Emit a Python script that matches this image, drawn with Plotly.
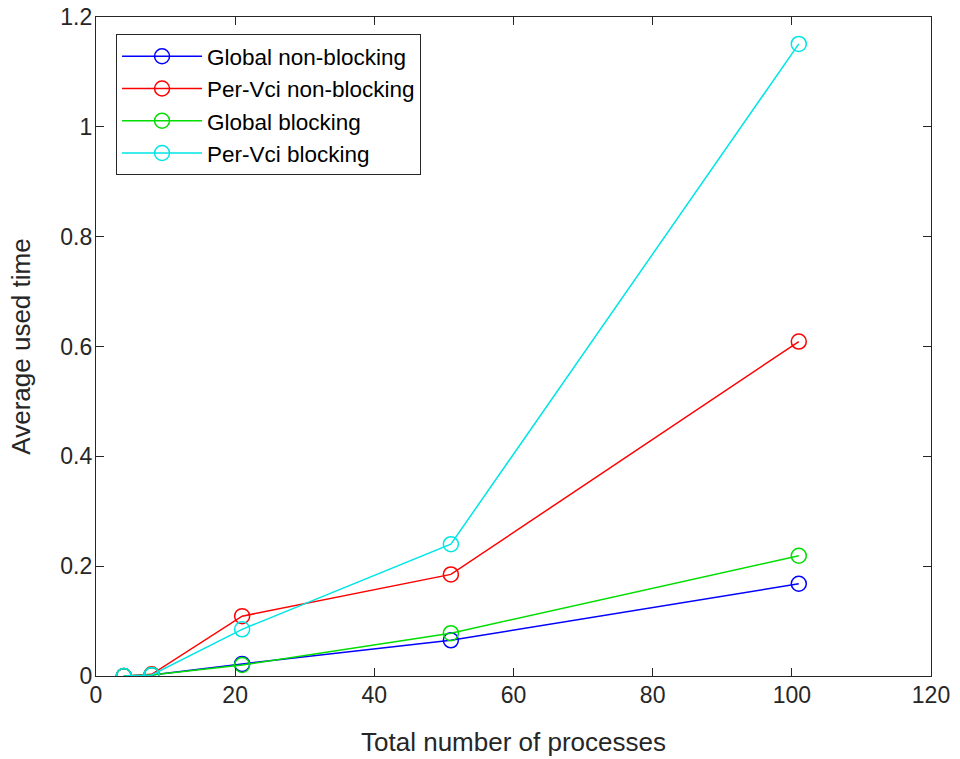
import plotly.graph_objects as go

# Total number of processes
procs = [4, 8, 21, 51, 101]

# Average used time per configuration
global_nonblocking = [0.0, 0.002, 0.022, 0.065, 0.168]
pervci_nonblocking = [0.0, 0.003, 0.109, 0.185, 0.609]
global_blocking = [0.0, 0.002, 0.020, 0.078, 0.219]
pervci_blocking = [0.0, 0.002, 0.085, 0.240, 1.151]

series_names = ["Global non-blocking", "Per-Vci non-blocking", "Global blocking", "Per-Vci blocking"]
series_colors = ["#0000FF", "#FF0000", "#00DD00", "#00E5E5"]
series_values = [global_nonblocking, pervci_nonblocking, global_blocking, pervci_blocking]

x_ticks = [0, 20, 40, 60, 80, 100, 120]
y_ticks = [0, 0.2, 0.4, 0.6, 0.8, 1.0, 1.2]
y_tick_text = ["0", "0.2", "0.4", "0.6", "0.8", "1", "1.2"]

FONT = "Liberation Sans, Arial, sans-serif"
AXIS_COLOR = "#262626"

fig = go.Figure()
for name, color, vals in zip(series_names, series_colors, series_values):
    fig.add_trace(go.Scatter(
        x=procs, y=vals, name=name, mode="lines+markers",
        line=dict(color=color, width=1.5),
        marker=dict(symbol="circle-open", size=15, color=color, line=dict(width=1.5, color=color)),
    ))

axis_common = dict(
    showline=True, linecolor=AXIS_COLOR, linewidth=1.3, mirror="ticks",
    ticks="inside", ticklen=8, tickcolor=AXIS_COLOR, tickwidth=1,
    showgrid=False, zeroline=False, automargin=False,
    tickfont=dict(family=FONT, size=23, color=AXIS_COLOR),
)

fig.update_xaxes(
    range=[0, 120], tickvals=x_ticks, ticklabelstandoff=-2,
    title=dict(text="Total number of processes", font=dict(family=FONT, size=26, color=AXIS_COLOR), standoff=26),
    **axis_common,
)
fig.update_yaxes(
    range=[0, 1.2], tickvals=y_ticks, ticktext=y_tick_text, ticklabelstandoff=-2,
    title=dict(text="Average used time", font=dict(family=FONT, size=26, color=AXIS_COLOR), standoff=22),
    **axis_common,
)

fig.update_layout(
    width=960, height=759,
    margin=dict(l=96, r=29, t=17, b=83),
    paper_bgcolor="white", plot_bgcolor="white",
    showlegend=True,
    legend=dict(
        x=0.024, y=0.974, xanchor="left", yanchor="top",
        bgcolor="white", bordercolor=AXIS_COLOR, borderwidth=1,
        font=dict(family=FONT, size=22.5, color="#000000"),
        itemwidth=80, tracegroupgap=0,
    ),
)

fig.write_html("out.html")
